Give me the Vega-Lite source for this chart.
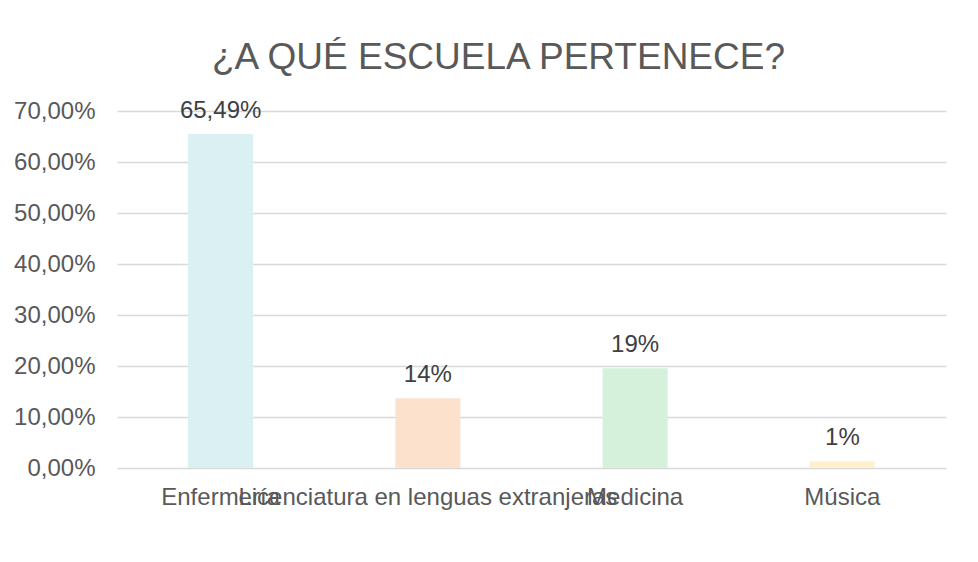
{
  "$schema": "https://vega.github.io/schema/vega-lite/v6.json",
  "autosize": {"type": "none"},
  "padding": {"left": 117, "top": 111, "right": 32, "bottom": 94},
  "width": 829,
  "height": 357,
  "background": "white",
  "title": {
    "text": "¿A QUÉ ESCUELA PERTENECE?",
    "font": "Liberation Sans",
    "fontSize": 37,
    "fontWeight": "normal",
    "color": "#595959",
    "anchor": "middle",
    "baseline": "alphabetic",
    "offset": -7,
    "dx": -33
  },
  "data": {
    "values": [
      {"escuela": "Enfermería", "valor": 0.6549, "etiqueta": "65,49%"},
      {"escuela": "Licenciatura en lenguas extranjeras", "valor": 0.137, "etiqueta": "14%"},
      {"escuela": "Medicina", "valor": 0.1957, "etiqueta": "19%"},
      {"escuela": "Música", "valor": 0.013, "etiqueta": "1%"}
    ]
  },
  "encoding": {
    "x": {
      "field": "escuela",
      "type": "nominal",
      "sort": null,
      "scale": {"paddingInner": 0.686, "paddingOuter": 0.343},
      "axis": {
        "title": null,
        "labelAngle": 0,
        "labelOverlap": false,
        "labelLimit": 1000,
        "ticks": false,
        "domain": false,
        "labelFont": "Liberation Sans",
        "labelFontSize": 24,
        "labelColor": "#595959",
        "labelBaseline": "alphabetic",
        "labelPadding": 36
      }
    },
    "y": {
      "field": "valor",
      "type": "quantitative",
      "scale": {"domain": [0, 0.7], "nice": false},
      "axis": {
        "title": null,
        "values": [0, 0.1, 0.2, 0.3, 0.4, 0.5, 0.6, 0.7],
        "format": ".2%",
        "ticks": false,
        "domain": false,
        "labelFont": "Liberation Sans",
        "labelFontSize": 24,
        "labelColor": "#595959",
        "labelPadding": 22,
        "gridColor": "#D9D9D9",
        "gridWidth": 1.3
      }
    }
  },
  "layer": [
    {
      "mark": {"type": "bar"},
      "encoding": {
        "color": {
          "field": "escuela",
          "type": "nominal",
          "legend": null,
          "scale": {
            "domain": ["Enfermería", "Licenciatura en lenguas extranjeras", "Medicina", "Música"],
            "range": ["#DAF0F3", "#FCE2CD", "#D5F0DB", "#FEF1CC"]
          }
        }
      }
    },
    {
      "mark": {
        "type": "text",
        "baseline": "alphabetic",
        "dy": -16,
        "font": "Liberation Sans",
        "fontSize": 24,
        "color": "#404040"
      },
      "encoding": {
        "text": {"field": "etiqueta"}
      }
    }
  ],
  "config": {
    "view": {"stroke": null},
    "locale": {
      "number": {"decimal": ",", "thousands": ".", "grouping": [3], "currency": ["", " €"]}
    }
  }
}
